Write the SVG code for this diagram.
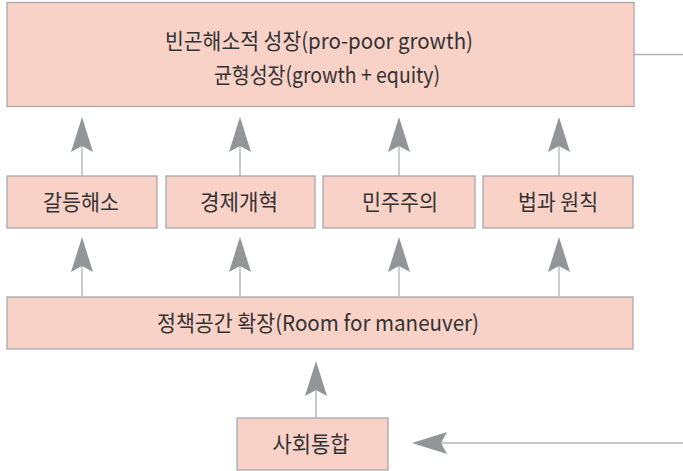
<svg xmlns="http://www.w3.org/2000/svg" width="683" height="471" viewBox="0 0 683 471">
<style>
.box{fill:#f8d1c7;stroke:#a7a9ac;stroke-width:1.3}
.t{font-family:"Noto Sans CJK KR","Noto Sans",sans-serif;font-size:22px;fill:#333;text-anchor:middle}
.c{stroke:#b5b5b5;stroke-width:1.4;fill:none}
</style>
<defs>
<marker id="ah" viewBox="0 0 35 22" refX="6" refY="11" markerWidth="35" markerHeight="22" markerUnits="userSpaceOnUse" orient="auto">
<path d="M0,0 L35,11 L0,22 L6,11 Z" fill="#939598"/>
</marker>
</defs>
<rect width="683" height="471" fill="#fff"/>
<g id="connectors">
<line class="c" x1="634" y1="54.5" x2="683" y2="54.5"/>
<line class="c" x1="82" y1="176" x2="82" y2="146" marker-end="url(#ah)"/>
<line class="c" x1="240" y1="176" x2="240" y2="146" marker-end="url(#ah)"/>
<line class="c" x1="399" y1="176" x2="399" y2="146" marker-end="url(#ah)"/>
<line class="c" x1="559" y1="176" x2="559" y2="146" marker-end="url(#ah)"/>
<line class="c" x1="82" y1="296" x2="82" y2="266" marker-end="url(#ah)"/>
<line class="c" x1="240" y1="296" x2="240" y2="266" marker-end="url(#ah)"/>
<line class="c" x1="399" y1="296" x2="399" y2="266" marker-end="url(#ah)"/>
<line class="c" x1="559" y1="296" x2="559" y2="266" marker-end="url(#ah)"/>
<line class="c" x1="316" y1="418" x2="316" y2="390" marker-end="url(#ah)"/>
<line class="c" x1="683" y1="443" x2="441" y2="443" marker-end="url(#ah)"/>
</g>
<g id="top">
<rect class="box" x="7" y="2.5" width="627" height="104"/>
<text class="t" x="319" y="49" textLength="308" lengthAdjust="spacingAndGlyphs">빈곤해소적 성장(pro-poor growth)</text>
<text class="t" x="327" y="83" textLength="226" lengthAdjust="spacingAndGlyphs">균형성장(growth + equity)</text>
</g>
<g id="n1"><rect class="box" x="7" y="176" width="150" height="52"/><text class="t" x="81" y="210" textLength="76" lengthAdjust="spacingAndGlyphs">갈등해소</text></g>
<g id="n2"><rect class="box" x="166" y="176" width="149" height="52"/><text class="t" x="239" y="210" textLength="78" lengthAdjust="spacingAndGlyphs">경제개혁</text></g>
<g id="n3"><rect class="box" x="323" y="176" width="152" height="52"/><text class="t" x="400" y="210" textLength="76" lengthAdjust="spacingAndGlyphs">민주주의</text></g>
<g id="n4"><rect class="box" x="483" y="176" width="150" height="52"/><text class="t" x="558" y="210" textLength="80" lengthAdjust="spacingAndGlyphs">법과 원칙</text></g>
<g id="policy"><rect class="box" x="7" y="297" width="626" height="52"/><text class="t" x="318" y="331" textLength="322" lengthAdjust="spacingAndGlyphs">정책공간 확장(Room for maneuver)</text></g>
<g id="social"><rect class="box" x="237" y="418" width="151" height="52"/><text class="t" x="311" y="452" textLength="77" lengthAdjust="spacingAndGlyphs">사회통합</text></g>
</svg>
